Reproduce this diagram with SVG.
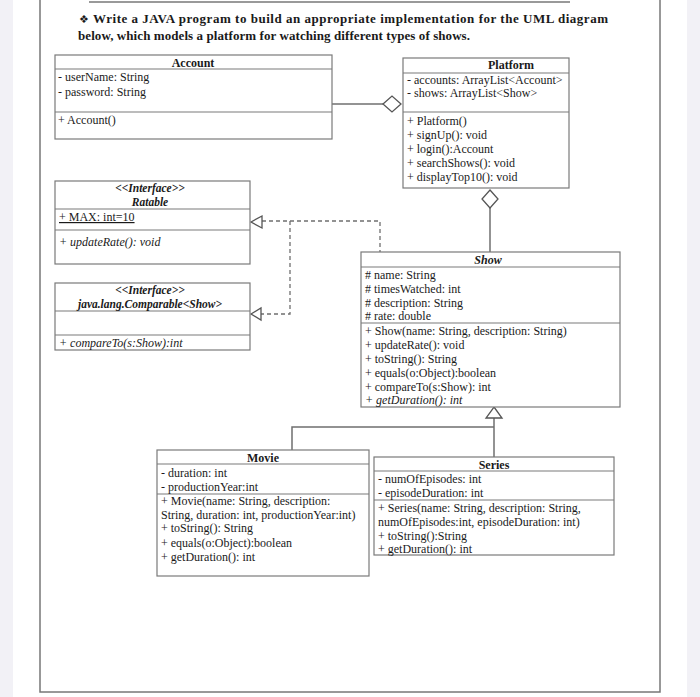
<svg xmlns="http://www.w3.org/2000/svg" width="700" height="697" viewBox="0 0 700 697">
<style>
text{font-family:"Liberation Serif","Times New Roman",serif;font-size:12px;fill:#1a1a1a}
.b{font-weight:bold}
.i{font-style:italic}
.s{font-size:11.5px}
.t{font-size:13px}
.box{fill:#fff;stroke:#7a7a7a;stroke-width:1.2}
.sep{stroke:#7a7a7a;stroke-width:1.2}
.ln{fill:none;stroke:#6f6f6f;stroke-width:1.5}
.dash{fill:none;stroke:#6f6f6f;stroke-width:1.3;stroke-dasharray:4,3}
.hd{fill:#fff;stroke:#555;stroke-width:1.3}
</style>
<rect x="0" y="0" width="700" height="697" fill="#f2f1f6"/>
<rect x="13" y="0" width="674" height="697" fill="#fff"/>
<line x1="89" y1="2" x2="570" y2="2" stroke="#777" stroke-width="1.5"/>
<rect x="40" y="-5" width="620" height="697" fill="none" stroke="#777" stroke-width="1.5"/>
<g id="title">
<text class="b t" x="79" y="23" textLength="529" lengthAdjust="spacing"><tspan style="font-family:'DejaVu Sans';font-size:11px">❖</tspan> Write a JAVA program to build an appropriate implementation for the UML diagram</text>
<text class="b t" x="78" y="40" textLength="392" lengthAdjust="spacing">below, which models a platform for watching different types of shows.</text>
</g>
<g id="connectors">
<line class="ln" x1="332" y1="104" x2="383" y2="104"/>
<polygon class="hd" points="383,104 392,96 401,104 392,112"/>
<line class="ln" x1="490" y1="208" x2="490" y2="252"/>
<polygon class="hd" points="490,190 498,199 490,208 482,199"/>
<polyline class="dash" points="262,221 380,221 380,252"/>
<polygon class="hd" points="251,222 262,216 262,228"/>
<polyline class="dash" points="290,221 290,314 261,314"/>
<polygon class="hd" points="251,314 261,308 261,320"/>
<line class="ln" x1="494" y1="418" x2="494" y2="457"/>
<polyline class="ln" points="292,450 292,427 494,427"/>
<polygon class="hd" points="494,407 502,418 486,418"/>
</g>
<g id="Account">
<rect class="box" x="55" y="55" width="277" height="84"/>
<line class="sep" x1="55" y1="69" x2="332" y2="69"/>
<line class="sep" x1="55" y1="112" x2="332" y2="112"/>
<text class="b" x="193" y="67" text-anchor="middle">Account</text>
<text x="58" y="81">- userName: String</text>
<text x="58" y="96">- password: String</text>
<text x="58" y="124">+ Account()</text>
</g>
<g id="Platform">
<rect class="box" x="403" y="58" width="166" height="130"/>
<line class="sep" x1="403" y1="73" x2="569" y2="73"/>
<line class="sep" x1="403" y1="112" x2="569" y2="112"/>
<text class="b" x="511" y="69" text-anchor="middle">Platform</text>
<text x="407" y="84">- accounts: ArrayList&lt;Account&gt;</text>
<text x="407" y="97">- shows: ArrayList&lt;Show&gt;</text>
<text x="407" y="125">+ Platform()</text>
<text x="407" y="139">+ signUp(): void</text>
<text x="407" y="153">+ login():Account</text>
<text x="407" y="167">+ searchShows(): void</text>
<text x="407" y="181">+ displayTop10(): void</text>
</g>
<g id="Ratable">
<rect class="box" x="55" y="181" width="195" height="83"/>
<line class="sep" x1="55" y1="209" x2="250" y2="209"/>
<line class="sep" x1="55" y1="230" x2="250" y2="230"/>
<text class="b i s" x="150" y="192" text-anchor="middle">&lt;&lt;Interface&gt;&gt;</text>
<text class="b i s" x="150" y="206" text-anchor="middle">Ratable</text>
<text x="59" y="221" text-decoration="underline">+ MAX: int=10</text>
<text class="i" x="59" y="246">+ updateRate(): void</text>
</g>
<g id="Comparable">
<rect class="box" x="55" y="283" width="195" height="67"/>
<line class="sep" x1="55" y1="311" x2="250" y2="311"/>
<line class="sep" x1="55" y1="335" x2="250" y2="335"/>
<text class="b i s" x="150" y="294" text-anchor="middle">&lt;&lt;Interface&gt;&gt;</text>
<text class="b i s" x="150" y="308" text-anchor="middle">java.lang.Comparable&lt;Show&gt;</text>
<text class="i" x="59" y="347">+ compareTo(s:Show):int</text>
</g>
<g id="Show">
<rect class="box" x="361" y="252" width="259" height="155"/>
<line class="sep" x1="361" y1="267" x2="620" y2="267"/>
<line class="sep" x1="361" y1="323" x2="620" y2="323"/>
<text class="b i" x="488" y="264" text-anchor="middle">Show</text>
<text x="365" y="279"># name: String</text>
<text x="365" y="293"># timesWatched: int</text>
<text x="365" y="307"># description: String</text>
<text x="365" y="320"># rate: double</text>
<text x="365" y="335">+ Show(name: String, description: String)</text>
<text x="365" y="349">+ updateRate(): void</text>
<text x="365" y="363">+ toString(): String</text>
<text x="365" y="377">+ equals(o:Object):boolean</text>
<text x="365" y="391">+ compareTo(s:Show): int</text>
<text class="i" x="365" y="404">+ getDuration(): int</text>
</g>
<g id="Movie">
<rect class="box" x="157" y="450" width="212" height="126"/>
<line class="sep" x1="157" y1="464" x2="369" y2="464"/>
<line class="sep" x1="157" y1="494" x2="369" y2="494"/>
<text class="b" x="263" y="462" text-anchor="middle">Movie</text>
<text x="161" y="477">- duration: int</text>
<text x="161" y="491">- productionYear:int</text>
<text x="161" y="505">+ Movie(name: String, description:</text>
<text x="161" y="519">String, duration: int, productionYear:int)</text>
<text x="161" y="532">+ toString(): String</text>
<text x="161" y="547">+ equals(o:Object):boolean</text>
<text x="161" y="561">+ getDuration(): int</text>
</g>
<g id="Series">
<rect class="box" x="374" y="457" width="240" height="98"/>
<line class="sep" x1="374" y1="471" x2="614" y2="471"/>
<line class="sep" x1="374" y1="500" x2="614" y2="500"/>
<text class="b" x="494" y="469" text-anchor="middle">Series</text>
<text x="378" y="483">- numOfEpisodes: int</text>
<text x="378" y="497">- episodeDuration: int</text>
<text x="378" y="512">+ Series(name: String, description: String,</text>
<text x="378" y="526">numOfEpisodes:int, episodeDuration: int)</text>
<text x="378" y="540">+ toString():String</text>
<text x="378" y="553">+ getDuration(): int</text>
</g>
</svg>
